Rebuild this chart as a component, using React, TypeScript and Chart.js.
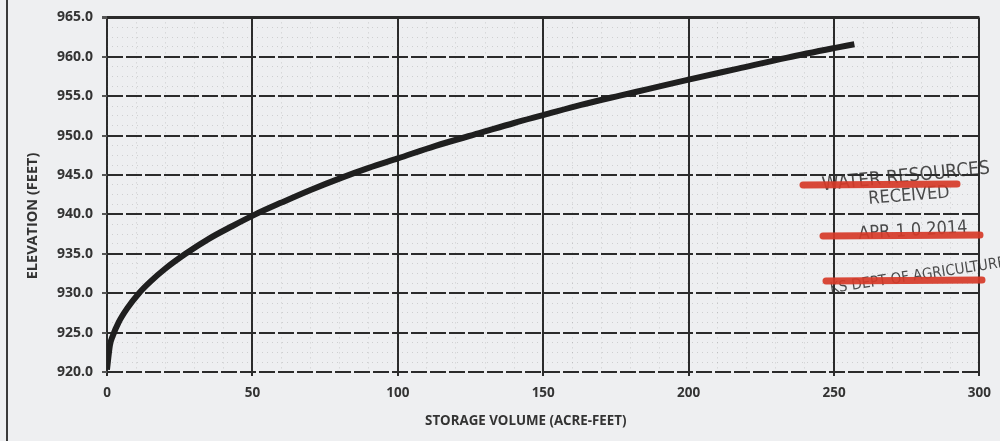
import React, { useEffect, useRef } from "react";
import { Chart, registerables } from "chart.js";

Chart.register(...registerables);

// ---- data ----
const storageVolume = [0, 1, 2, 4, 7, 11, 15, 20, 27, 35, 43, 51, 60, 70, 81, 90, 100, 113, 128, 140, 150, 163, 176, 186, 200, 217, 234, 250, 257];
const elevation = [920.3, 923.4, 924.6, 926.3, 928.1, 930.0, 931.5, 933.1, 935.0, 936.9, 938.5, 940.0, 941.5, 943.1, 944.7, 945.9, 947.1, 948.7, 950.3, 951.6, 952.6, 953.9, 955.05, 955.9, 957.1, 958.5, 959.9, 961.1, 961.6];

const xMin = 0;
const xMax = 300;
const xMajorStep = 50;
const xMinorStep = 10;
const yMin = 920;
const yMax = 965;
const yMajorStep = 5;
const yMinorStep = 1.25;

const xTitle = "STORAGE VOLUME (ACRE-FEET)";
const yTitle = "ELEVATION (FEET)";
const stampLines = ["WATER RESOURCES", "RECEIVED", "APR 1 0 2014", "KS DEPT OF AGRICULTURE"];

const BG = "#eeeff1";
const INK = "#2b2b2b";
const FONT = "'Open Sans', 'Noto Sans', sans-serif";

const isMultiple = (v: number, step: number) => Math.abs(v / step - Math.round(v / step)) < 1e-6;

const bgPlugin = {
  id: "bg",
  beforeDraw(chart: any) {
    const { ctx, width, height } = chart;
    ctx.save();
    ctx.fillStyle = BG;
    ctx.fillRect(0, 0, width, height);
    ctx.restore();
  },
};

const titlesPlugin = {
  id: "titles",
  afterDraw(chart: any) {
    const { ctx, chartArea } = chart;
    ctx.save();
    ctx.fillStyle = "#333";
    ctx.textAlign = "center";
    ctx.textBaseline = "middle";
    ctx.font = `bold 13.3px ${FONT}`;
    ctx.fillText(xTitle, chartArea.left + (chartArea.right - chartArea.left) * 0.48, chartArea.bottom + 49);
    ctx.translate(33, chartArea.top + (chartArea.bottom - chartArea.top) * 0.56);
    ctx.rotate(-Math.PI / 2);
    ctx.font = `bold 14.5px ${FONT}`;
    ctx.fillText(yTitle, 0, 0);
    ctx.restore();
  },
};

const stampPlugin = {
  id: "stamp",
  afterDraw(chart: any) {
    const { ctx } = chart;
    ctx.save();
    ctx.fillStyle = "rgba(45,45,45,0.85)";
    ctx.textAlign = "center";
    ctx.textBaseline = "middle";
    const items: [string, number, number, number, number][] = [
      [stampLines[0], 906, 177, -0.1, 19],
      [stampLines[1], 909, 196, -0.08, 18],
      [stampLines[2], 913, 231, -0.06, 18],
      [stampLines[3], 918, 276, -0.15, 15],
    ];
    for (const [t, x, y, r, s] of items) {
      ctx.save();
      ctx.translate(x, y);
      ctx.rotate(r);
      ctx.font = `${s}px 'Liberation Sans Narrow', 'DejaVu Sans Condensed', sans-serif`;
      ctx.fillText(t, 0, 0);
      ctx.restore();
    }
    ctx.strokeStyle = "rgba(214,58,40,0.92)";
    ctx.lineWidth = 7;
    ctx.lineCap = "round";
    const bars: [number, number, number, number][] = [
      [803, 185, 957, 184],
      [823, 236, 980, 235],
      [826, 281, 982, 280],
    ];
    for (const [x1, y1, x2, y2] of bars) {
      ctx.beginPath();
      ctx.moveTo(x1, y1);
      ctx.lineTo(x2, y2);
      ctx.stroke();
    }
    ctx.restore();
  },
};

export default function App() {
  const ref = useRef<HTMLCanvasElement | null>(null);

  useEffect(() => {
    if (!ref.current) return;
    const chart = new Chart(ref.current, {
      type: "line",
      data: {
        datasets: [
          {
            data: storageVolume.map((x, i) => ({ x, y: elevation[i] })),
            borderColor: "#1f1f1f",
            borderWidth: 6,
            pointRadius: 0,
            cubicInterpolationMode: "monotone",
            fill: false,
          },
        ],
      },
      options: {
        responsive: false,
        animation: false,
        devicePixelRatio: 1,
        layout: { padding: { top: 13, right: 13, left: 0, bottom: 0 } },
        plugins: { legend: { display: false }, tooltip: { enabled: false } },
        scales: {
          x: {
            type: "linear",
            min: xMin,
            max: xMax,
            afterFit: (s: any) => {
              s.height = 69;
            },
            ticks: {
              stepSize: xMinorStep,
              autoSkip: false,
              maxRotation: 0,
              padding: 9,
              color: "#333",
              font: { family: FONT, size: 13.5, weight: "bold" },
              callback: (v: any) => (isMultiple(Number(v), xMajorStep) ? String(v) : ""),
            },
            grid: {
              color: (c: any) => (isMultiple(c.tick.value, xMajorStep) ? INK : "rgba(80,80,80,0.22)"),
              lineWidth: (c: any) => (isMultiple(c.tick.value, xMajorStep) ? 2 : 1),
              tickLength: 4,
              tickColor: (c: any) => (isMultiple(c.tick.value, xMajorStep) ? INK : "rgba(0,0,0,0)"),
            },
            border: {
              display: false,
              dash: (c: any) => (c.tick && !isMultiple(c.tick.value, xMajorStep) ? [1, 4] : []),
            },
          },
          y: {
            type: "linear",
            min: yMin,
            max: yMax,
            afterFit: (s: any) => {
              s.width = 107;
            },
            ticks: {
              stepSize: yMinorStep,
              autoSkip: false,
              padding: 9,
              color: "#333",
              font: { family: FONT, size: 14, weight: "bold" },
              callback: (v: any) => (isMultiple(Number(v), yMajorStep) ? Number(v).toFixed(1) : ""),
            },
            grid: {
              color: (c: any) => (isMultiple(c.tick.value, yMajorStep) ? INK : "rgba(80,80,80,0.2)"),
              lineWidth: (c: any) =>
                c.tick.value === yMax ? 3 : isMultiple(c.tick.value, yMajorStep) ? 2 : 1,
              tickLength: 5,
              tickColor: (c: any) => (isMultiple(c.tick.value, yMajorStep) ? "#555" : "rgba(0,0,0,0)"),
            },
            border: {
              display: false,
              dash: (c: any) =>
                c.tick
                  ? c.tick.value === yMax
                    ? []
                    : isMultiple(c.tick.value, yMajorStep)
                    ? [16, 3]
                    : [1, 4]
                  : [],
            },
          },
        },
      },
      plugins: [bgPlugin, titlesPlugin, stampPlugin],
    } as any);
    return () => chart.destroy();
  }, []);

  return (
    <div style={{ position: "absolute", left: 0, top: 0, width: 1000, height: 441, background: BG, overflow: "hidden" }}>
      <canvas ref={ref} width={1000} height={441} style={{ position: "absolute", left: 0, top: 0 }} />
      <div style={{ position: "absolute", left: 6, top: 0, width: 2, height: 441, background: "#3a3a3a" }} />
    </div>
  );
}
